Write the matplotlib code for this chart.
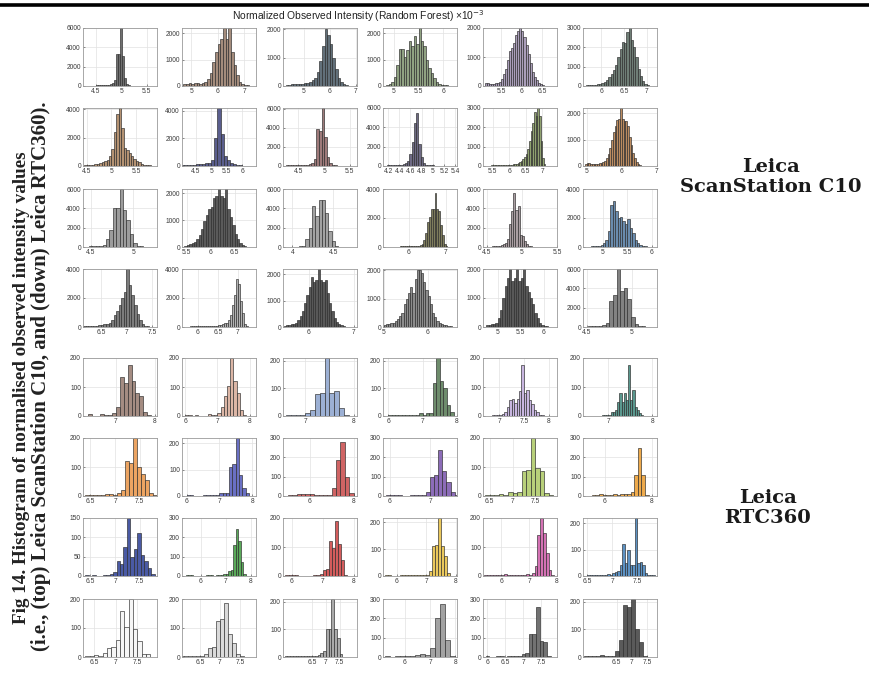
import numpy as np
import matplotlib
matplotlib.use("Agg")
import matplotlib.pyplot as plt
from matplotlib.lines import Line2D

# ---------------- text ----------------
title_text = "Normalized Observed Intensity (Random Forest) \u00d710$^{-3}$"
caption_line1 = "Fig 14. Histogram of normalised observed intensity values"
caption_line2 = "(i.e., (top) Leica ScanStation C10, and (down) Leica RTC360)."
label_c10 = "Leica\nScanStation C10"
label_rtc = "Leica\nRTC360"

# ---------------- data: bin start, bin width, counts ----------------
# Leica ScanStation C10 (rows 1-4)
r1_start = [4.34, 4.7, 4.3, 4.85, 5.1, 5.6]
r1_width = [0.04, 0.1, 0.1, 0.05, 0.05, 0.05]
h11 = [20, 30, 40, 50, 60, 60, 80, 90, 100, 120, 150, 200, 300, 600, 3300, 3300, 6000, 3100, 800, 250, 100, 50, 30]
h12 = [60, 80, 100, 90, 110, 100, 80, 100, 150, 250, 500, 900, 1300, 1600, 1800, 2200, 1800, 2200, 1300, 800, 400, 150, 60, 30, 20]
h13 = [40, 50, 60, 60, 70, 80, 80, 100, 120, 150, 200, 300, 500, 900, 1400, 2000, 1800, 1500, 1000, 600, 300, 150, 60, 30]
h14 = [50, 80, 150, 350, 800, 1400, 1400, 1100, 1350, 1700, 1500, 1900, 1600, 2200, 1700, 1500, 1000, 700, 500, 300, 150, 80, 50, 30, 20]
h15 = [100, 90, 80, 70, 80, 100, 100, 150, 250, 400, 600, 900, 1200, 1300, 1500, 1750, 1900, 2000, 1900, 1700, 1400, 1100, 800, 500, 300, 200, 100, 60, 30]
h16 = [20, 30, 30, 40, 50, 60, 80, 100, 150, 200, 300, 450, 600, 850, 1100, 1500, 1900, 2300, 2200, 2800, 3000, 2400, 2000, 1500, 900, 500, 250, 100, 50]
r1_xlim = [(4.25, 5.70), (4.65, 7.45), (4.2, 7.05), (4.78, 6.28), (5.06, 6.87), (5.59, 7.23)]
r1_xticks = [[4.5, 5, 5.5], [5, 6, 7], [5, 6, 7], [5, 5.5, 6], [5.5, 6, 6.5], [6, 6.5, 7]]
r1_yticks = [[0, 2000, 4000, 6000], [0, 1000, 2000], [0, 1000, 2000], [0, 1000, 2000], [0, 1000, 2000], [0, 1000, 2000, 3000]]
r1_ytop = [6000, 2200, 2050, 2200, 2000, 3000]

r2_start = [4.45, 4.0, 4.25, 4.14, 5.25, 4.95]
r2_width = [0.05, 0.1, 0.05, 0.04, 0.05, 0.05]
h21 = [50, 60, 80, 100, 120, 150, 200, 250, 350, 450, 700, 1200, 2400, 3700, 4100, 2700, 1300, 1100, 900, 700, 500, 350, 250, 150, 100, 60, 40]
h22 = [50, 60, 80, 80, 100, 110, 120, 150, 200, 250, 400, 2000, 4200, 2300, 700, 400, 250, 150, 100, 60, 30]
h23 = [60, 70, 80, 100, 100, 120, 120, 150, 150, 200, 300, 700, 3900, 3700, 6100, 3000, 900, 300, 120, 60, 30]
h24 = [50, 60, 80, 100, 100, 120, 150, 150, 200, 300, 500, 1200, 2500, 4500, 5500, 2300, 900, 300, 150, 100, 80, 60, 50, 40, 30]
h25 = [20, 20, 20, 20, 30, 30, 30, 30, 40, 40, 40, 50, 50, 50, 60, 60, 70, 80, 100, 120, 150, 200, 250, 350, 450, 600, 900, 1300, 1800, 2200, 2800, 2600, 3000, 2600, 1300, 400, 100]
h26 = [80, 100, 100, 90, 80, 80, 70, 90, 100, 120, 150, 200, 300, 450, 700, 1000, 1300, 1500, 1750, 1800, 2200, 1800, 1700, 1700, 1500, 1100, 800, 500, 300, 150, 80, 40]
r2_xlim = [(4.42, 5.93), (4.05, 6.45), (4.2, 5.64), (4.11, 5.43), (5.2, 7.45), (4.9, 7.0)]
r2_xticks = [[4.5, 5, 5.5], [4.5, 5, 5.5, 6], [4.5, 5, 5.5], [4.2, 4.4, 4.6, 4.8, 5, 5.2, 5.4], [5.5, 6, 6.5, 7], [5, 6, 7]]
r2_yticks = [[0, 2000, 4000], [0, 2000, 4000], [0, 2000, 4000, 6000], [0, 2000, 4000, 6000], [0, 1000, 2000, 3000], [0, 1000, 2000]]
r2_ytop = [4100, 4200, 6100, 6000, 3000, 2200]

r3_start = [4.44, 5.45, 3.92, 5.35, 4.46, 4.65]
r3_width = [0.04, 0.05, 0.04, 0.05, 0.03, 0.05]
h31 = [50, 60, 80, 100, 150, 250, 800, 1800, 4000, 4000, 6000, 3800, 2800, 1300, 400, 150, 80, 50, 40]
h32 = [50, 80, 100, 150, 200, 300, 450, 650, 950, 1200, 1400, 1500, 1800, 1900, 2200, 1900, 1800, 2200, 1400, 1100, 800, 500, 300, 150, 80, 40]
h33 = [30, 40, 40, 50, 60, 100, 800, 2000, 4200, 3200, 4900, 4900, 3500, 1700, 600, 100, 50, 30, 20]
h34 = [20, 20, 20, 20, 30, 30, 30, 30, 40, 40, 40, 50, 50, 60, 60, 70, 80, 90, 100, 120, 200, 500, 1000, 1700, 2100, 2600, 2600, 3700, 2600, 2500, 1500, 800, 200, 60]
h35 = [20, 30, 40, 50, 60, 80, 100, 150, 200, 300, 400, 800, 2400, 3700, 5600, 3800, 4200, 1200, 1100, 600, 300, 150, 80, 40, 20]
h36 = [20, 30, 40, 60, 80, 100, 150, 300, 500, 1100, 2900, 3200, 2500, 2000, 2100, 1800, 1600, 1900, 1300, 1000, 500, 300, 150, 80, 50, 30]
r3_xlim = [(4.41, 5.28), (5.4, 6.95), (3.885, 4.79), (5.3, 7.31), (4.45, 5.5), (4.59, 6.11)]
r3_xticks = [[4.5, 5], [5.5, 6, 6.5], [4, 4.5], [6, 7], [4.5, 5, 5.5], [5, 5.5, 6]]
r3_yticks = [[0, 2000, 4000, 6000], [0, 1000, 2000], [0, 2000, 4000, 6000], [0, 2000, 4000], [0, 2000, 4000, 6000], [0, 2000, 4000]]
r3_ytop = [6000, 2150, 6000, 4000, 6000, 4000]

r4_start = [6.15, 5.6, 5.45, 5.0, 4.75, 4.47]
r4_width = [0.05, 0.05, 0.05, 0.05, 0.05, 0.04]
h41 = [60, 70, 80, 90, 100, 100, 120, 150, 180, 200, 300, 500, 800, 1100, 1500, 2000, 2400, 4000, 2900, 2200, 1500, 900, 500, 200, 80, 40]
h42 = [30, 30, 30, 30, 40, 40, 40, 50, 50, 50, 60, 60, 60, 70, 70, 80, 80, 100, 120, 150, 200, 250, 300, 500, 800, 1500, 2200, 3300, 3000, 1800, 1000, 200, 60]
h43 = [50, 60, 80, 100, 120, 150, 250, 400, 600, 900, 1200, 1500, 1900, 1700, 1800, 2300, 1800, 1700, 1800, 1300, 900, 600, 350, 200, 100, 60, 30]
h44 = [80, 100, 120, 150, 150, 200, 300, 400, 500, 800, 1000, 1200, 1400, 1200, 1700, 2000, 2000, 1900, 1600, 1300, 1100, 800, 500, 350, 200, 150, 100, 80, 60, 40, 30]
h45 = [60, 80, 100, 100, 150, 300, 600, 1000, 1400, 1700, 2000, 1600, 1700, 2000, 1600, 1700, 2000, 1400, 1200, 1000, 800, 500, 300, 150, 80, 50, 30]
h46 = [50, 60, 80, 100, 120, 200, 400, 2700, 3300, 6000, 3700, 4000, 2900, 1000, 300, 100, 60, 40, 30]
r4_xlim = [(6.15, 7.6), (5.6, 7.45), (5.43, 7.07), (4.98, 6.67), (4.68, 6.29), (4.455, 5.28)]
r4_xticks = [[6.5, 7, 7.5], [6, 6.5, 7], [6, 7], [5, 6], [5, 5.5, 6], [4.5, 5]]
r4_yticks = [[0, 2000, 4000], [0, 2000, 4000], [0, 1000, 2000], [0, 1000, 2000], [0, 1000, 2000], [0, 2000, 4000, 6000]]
r4_ytop = [4000, 4000, 2200, 2050, 2000, 6000]

# Leica RTC360 (rows 5-8)
r5_start = [6.3, 6.0, 6.6, 6.0, 6.85, 6.85]
r5_width = [0.1, 0.1, 0.1, 0.1, 0.05, 0.05]
h51 = [8, 0, 0, 8, 3, 5, 10, 30, 135, 115, 175, 120, 80, 70, 15, 2]
h52 = [2, 2, 0, 2, 0, 0, 0, 8, 3, 5, 10, 30, 70, 105, 200, 120, 80, 20, 5]
h53 = [2, 2, 3, 5, 10, 20, 80, 85, 210, 85, 90, 30, 5]
h54 = [2, 2, 3, 5, 5, 3, 2, 3, 3, 10, 5, 10, 10, 120, 210, 125, 100, 40, 15]
h55 = [3, 2, 3, 5, 8, 15, 30, 55, 60, 45, 60, 85, 175, 80, 90, 55, 40, 20, 15, 5, 3]
h56 = [3, 3, 3, 5, 15, 15, 20, 50, 80, 50, 80, 55, 175, 55, 90, 30, 20, 10, 5]
r5_xlim = [(6.16, 8.05), (5.9, 8.2), (6.54, 8.07), (5.85, 8.0), (6.67, 8.17), (6.42, 8.11)]
r5_xticks = [[7, 8], [6, 7, 8], [7, 8], [6, 7, 8], [7, 7.5, 8], [7, 8]]
r5_yticks = [[0, 100, 200]] * 6
r5_ytop = [200, 200, 210, 210, 200, 200]

r6_start = [6.4, 6.0, 5.0, 5.9, 6.4, 5.45]
r6_width = [0.08, 0.1, 0.2, 0.1, 0.1, 0.15]
h61 = [3, 5, 3, 5, 3, 8, 8, 5, 10, 20, 120, 115, 200, 100, 75, 55, 10, 5]
h62 = [3, 3, 0, 0, 0, 2, 3, 3, 2, 5, 10, 10, 10, 110, 120, 220, 80, 30, 10]
h63 = [3, 5, 8, 8, 10, 8, 5, 5, 5, 5, 40, 185, 280, 100, 15]
h64 = [3, 3, 5, 3, 0, 0, 3, 3, 3, 5, 20, 100, 110, 240, 130, 75, 20, 5]
h65 = [5, 2, 3, 8, 3, 15, 12, 15, 85, 90, 200, 95, 85, 10, 5]
h66 = [3, 5, 8, 3, 5, 5, 8, 5, 8, 10, 10, 20, 110, 250, 110, 5]
r6_xlim = [(6.35, 7.85), (5.86, 8.12), (4.77, 8.16), (5.83, 7.66), (6.35, 7.98), (5.07, 8.21)]
r6_xticks = [[6.5, 7, 7.5], [6, 7, 8], [6, 8], [6, 7], [6.5, 7, 7.5], [6, 8]]
r6_yticks = [[0, 100, 200], [0, 100, 200], [0, 100, 200, 300], [0, 100, 200, 300], [0, 100, 200], [0, 100, 200, 300]]
r6_ytop = [200, 220, 300, 300, 200, 300]

r7_start = [6.4, 5.4, 5.8, 5.6, 5.4, 6.5]
r7_width = [0.07, 0.1, 0.1, 0.1, 0.1, 0.05]
h71 = [2, 0, 2, 0, 0, 2, 3, 5, 10, 38, 30, 75, 150, 50, 70, 112, 55, 38, 20, 5]
h72 = [3, 5, 3, 0, 0, 0, 2, 2, 3, 5, 3, 2, 3, 5, 5, 10, 10, 25, 30, 160, 245, 180, 70, 10]
h73 = [2, 3, 5, 3, 0, 0, 0, 0, 0, 2, 3, 8, 20, 25, 120, 95, 190, 110, 55, 5]
h74 = [3, 2, 0, 0, 0, 2, 3, 3, 5, 3, 3, 3, 5, 3, 5, 20, 110, 115, 215, 110, 75, 10]
h75 = [2, 3, 3, 2, 3, 5, 3, 8, 3, 2, 3, 3, 5, 5, 5, 8, 5, 10, 35, 140, 200, 150, 80, 20, 5]
h76 = [2, 2, 2, 3, 2, 3, 3, 3, 8, 5, 10, 15, 20, 40, 120, 50, 100, 40, 40, 220, 50, 55, 40, 10, 5, 5, 3]
r7_xlim = [(6.35, 7.85), (5.25, 8.21), (5.72, 8.11), (5.54, 8.05), (5.35, 8.0), (6.42, 7.89)]
r7_xticks = [[6.5, 7, 7.5], [6, 7, 8], [6, 7, 8], [6, 7, 8], [6, 7, 8], [6.5, 7, 7.5]]
r7_yticks = [[0, 50, 100, 150], [0, 100, 200, 300], [0, 100, 200], [0, 100, 200], [0, 100, 200], [0, 100, 200]]
r7_ytop = [150, 300, 200, 215, 200, 220]

r8_start = [6.3, 6.0, 5.5, 5.2, 5.95, 5.42]
r8_width = [0.1, 0.1, 0.1, 0.2, 0.1, 0.13]
h81 = [3, 5, 8, 5, 15, 30, 35, 60, 160, 105, 200, 95, 55, 10, 10]
h82 = [3, 3, 3, 3, 5, 5, 10, 30, 35, 125, 130, 185, 80, 50, 10, 5]
h83 = [2, 3, 2, 2, 3, 3, 3, 3, 5, 5, 5, 5, 8, 15, 20, 100, 100, 210, 100, 70, 10]
h84 = [3, 2, 3, 3, 5, 5, 8, 15, 10, 45, 200, 275, 90, 5]
h85 = [3, 2, 0, 3, 3, 2, 3, 3, 3, 5, 15, 20, 120, 120, 260, 85, 80, 5]
h86 = [3, 2, 3, 3, 8, 3, 3, 5, 20, 60, 190, 180, 210, 100, 55, 5]
r8_xlim = [(6.25, 7.95), (6.05, 7.9), (5.44, 8.13), (5.13, 8.07), (5.88, 7.93), (5.39, 7.83)]
r8_xticks = [[6.5, 7, 7.5], [6.5, 7, 7.5], [6.5, 7, 7.5], [6, 7, 8], [6, 6.5, 7, 7.5], [6.5, 7, 7.5]]
r8_yticks = [[0, 100, 200], [0, 100, 200], [0, 100, 200], [0, 100, 200, 300], [0, 100, 200, 300], [0, 100, 200]]
r8_ytop = [200, 200, 210, 300, 300, 210]

# ---------------- styles ----------------
row_colors = [
    ["#707070", "#a48c7c", "#62707a", "#90a282", "#aa9eba", "#6f7e76"],
    ["#b49272", "#5a5e8e", "#9e7a7a", "#6e6a84", "#90a270", "#bc8c60"],
    ["#9c9c9c", "#5a5a5a", "#a2a2a2", "#7e7c5c", "#aa9ea2", "#6a8cae"],
    ["#7c7c7c", "#b2b2b2", "#585858", "#8c8c8c", "#585858", "#828282"],
    ["#a48c82", "#dcb6a6", "#9cb0d4", "#6e8c6c", "#c8b6e0", "#5a988e"],
    ["#eca462", "#6a70c4", "#d06464", "#8c6cb8", "#b8d07a", "#eeaa4c"],
    ["#4a5aa4", "#5aaa5a", "#d45c5c", "#eac85c", "#d472b4", "#5c92c4"],
    ["#f6f6f6", "#dadada", "#aaaaaa", "#a2a2a2", "#727272", "#5a5a5a"],
]

rows = [
    (r1_start, r1_width, [h11, h12, h13, h14, h15, h16], r1_xlim, r1_xticks, r1_yticks, r1_ytop),
    (r2_start, r2_width, [h21, h22, h23, h24, h25, h26], r2_xlim, r2_xticks, r2_yticks, r2_ytop),
    (r3_start, r3_width, [h31, h32, h33, h34, h35, h36], r3_xlim, r3_xticks, r3_yticks, r3_ytop),
    (r4_start, r4_width, [h41, h42, h43, h44, h45, h46], r4_xlim, r4_xticks, r4_yticks, r4_ytop),
    (r5_start, r5_width, [h51, h52, h53, h54, h55, h56], r5_xlim, r5_xticks, r5_yticks, r5_ytop),
    (r6_start, r6_width, [h61, h62, h63, h64, h65, h66], r6_xlim, r6_xticks, r6_yticks, r6_ytop),
    (r7_start, r7_width, [h71, h72, h73, h74, h75, h76], r7_xlim, r7_xticks, r7_yticks, r7_ytop),
    (r8_start, r8_width, [h81, h82, h83, h84, h85, h86], r8_xlim, r8_xticks, r8_yticks, r8_ytop),
]

W, H = 870, 673
fig = plt.figure(figsize=(W / 100, H / 100), dpi=100)
fig.patch.set_facecolor("white")

col_left_px = [83, 182, 283, 383, 483, 583]
row_top_px = [28, 108, 189, 269, 358, 438, 518, 599]
ax_w_px, ax_h_px = 74, 58


def fmt(v):
    return ("%g" % v)


for ri, (starts, widths, counts_list, xlims, xticks, yticks, ytops) in enumerate(rows):
    for ci in range(6):
        left = col_left_px[ci] / W
        bottom = 1 - (row_top_px[ri] + ax_h_px) / H
        ax = fig.add_axes([left, bottom, ax_w_px / W, ax_h_px / H])
        counts = np.asarray(counts_list[ci], dtype=float)
        edges = starts[ci] + widths[ci] * np.arange(len(counts) + 1)
        ax.bar(edges[:-1], counts, width=widths[ci], align="edge",
               color=row_colors[ri][ci], edgecolor="#2b2b2b", linewidth=0.45, zorder=2)
        ax.set_xlim(*xlims[ci])
        ax.set_ylim(0, ytops[ci])
        ax.set_xticks(xticks[ci])
        ax.set_xticklabels([fmt(v) for v in xticks[ci]])
        ax.set_yticks(yticks[ci])
        ax.set_yticklabels([fmt(v) for v in yticks[ci]])
        ax.grid(True, color="#e2e2e2", linewidth=0.5, zorder=0)
        ax.set_axisbelow(True)
        ax.tick_params(labelsize=4.8, colors="#3a3a3a", length=1.2, width=0.4,
                       direction="in", pad=1.5)
        for lab in ax.get_xticklabels() + ax.get_yticklabels():
            lab.set_fontfamily("Liberation Sans")
        for s in ax.spines.values():
            s.set_color("#9a9a9a")
            s.set_linewidth(0.6)

# title
fig.text(358 / W, 1 - 16 / H, title_text, ha="center", va="center",
         fontsize=7.4, family="Liberation Sans", color="#222222")

# top rule
fig.add_artist(Line2D([0, 1], [1 - 5 / H, 1 - 5 / H], color="black", linewidth=2.6))

# left caption
fig.text(22 / W, 1 - 388 / H, caption_line1, rotation=90, ha="center", va="center",
         fontsize=13.8, family="Liberation Serif", fontweight="bold", color="#222222")
fig.text(41 / W, 1 - 376 / H, caption_line2, rotation=90, ha="center", va="center",
         fontsize=15.0, family="Liberation Serif", fontweight="bold", color="#222222")

# right labels
fig.text(771 / W, 1 - 177 / H, label_c10, ha="center", va="center", fontsize=14.0,
         family="DejaVu Serif", fontweight="bold", color="#1a1a1a", linespacing=1.15)
fig.text(768 / W, 1 - 508 / H, label_rtc, ha="center", va="center", fontsize=14.0,
         family="DejaVu Serif", fontweight="bold", color="#1a1a1a", linespacing=1.15)

fig.savefig("out.png", dpi=100, facecolor="white")
